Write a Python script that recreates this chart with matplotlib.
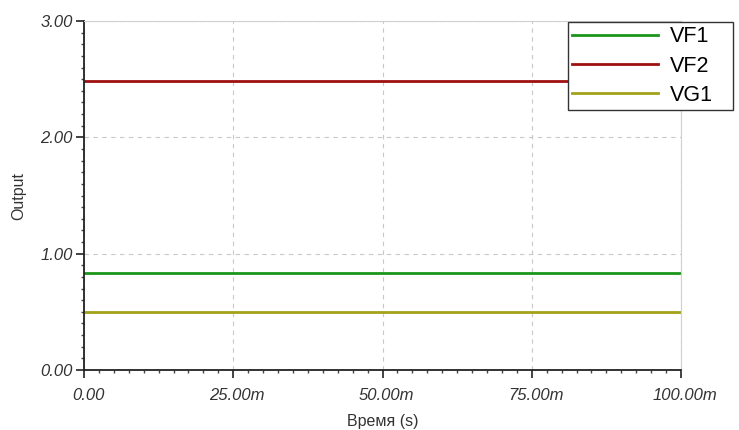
import matplotlib
matplotlib.use("Agg")
import matplotlib.pyplot as plt
import matplotlib.transforms as mtransforms
from matplotlib.ticker import MultipleLocator, FuncFormatter

# simulation output (constant levels)
time = [0.0, 0.1]
vf1 = [0.833, 0.833]
vf2 = [2.485, 2.485]
vg1 = [0.5, 0.5]
names = ["VF1", "VF2", "VG1"]
colors = ["#1a961a", "#a00f0f", "#a3a21a"]

plt.rcParams['font.family'] = ['Liberation Sans', 'DejaVu Sans']

fig = plt.figure(figsize=(7.39, 4.30), dpi=100)
ax = fig.add_axes([0.1137, 0.1395, 0.8078, 0.8115])

for y, name, c in zip([vf1, vf2, vg1], names, colors):
    ax.plot(time, y, color=c, lw=2, label=name)

ax.set_xlim(0, 0.1)
ax.set_ylim(0, 3)

ax.xaxis.set_major_locator(MultipleLocator(0.025))
ax.xaxis.set_minor_locator(MultipleLocator(0.0025))
ax.yaxis.set_major_locator(MultipleLocator(1.0))
ax.yaxis.set_minor_locator(MultipleLocator(0.1))

def xfmt(v, pos):
    if abs(v) < 1e-12:
        return "0.00"
    return f"{v*1000:.2f}m"

ax.xaxis.set_major_formatter(FuncFormatter(xfmt))
ax.yaxis.set_major_formatter(FuncFormatter(lambda v, p: f"{v:.2f}"))

ax.grid(True, which='major', color='#c8c8c8', linestyle=(0, (4, 4)), lw=0.8)
ax.set_axisbelow(True)

for s in ['top', 'right']:
    ax.spines[s].set_color('#d0d0d0')
for s in ['left', 'bottom']:
    ax.spines[s].set_color('#222222')
    ax.spines[s].set_linewidth(1.3)

ax.tick_params(which='major', direction='out', length=6, width=1.2, color='#222222',
               labelsize=12, labelcolor='#333333', pad=2)
ax.tick_params(axis='x', which='major', pad=7)
ax.tick_params(which='minor', direction='out', length=2.5, width=1, color='#444444')
ax.tick_params(top=False, right=False, which='both')

shift = mtransforms.ScaledTranslation(4 / 100, 0, fig.dpi_scale_trans)
for lab in ax.get_xticklabels():
    lab.set_fontstyle('italic')
    lab.set_transform(lab.get_transform() + shift)
for lab in ax.get_yticklabels():
    lab.set_fontstyle('italic')

ax.set_xlabel("Время (s)", fontsize=11.5, color='#333333', labelpad=8)
ax.set_ylabel("Output", fontsize=11.5, color='#333333', labelpad=10)

# legend box spans x 568..733 px, top at 22 px
leg = ax.legend(loc='upper left', bbox_to_anchor=(0.7686, 0.7395, 0.2234, 0.2093),
                bbox_transform=fig.transFigure, mode='expand', fontsize=15.5,
                handlelength=4.0, handletextpad=0.55, labelspacing=0.38, borderpad=0.2,
                borderaxespad=0, fancybox=False, framealpha=1, edgecolor='#333333')
leg.get_frame().set_linewidth(1.0)

fig.savefig("out.png", dpi=100)
